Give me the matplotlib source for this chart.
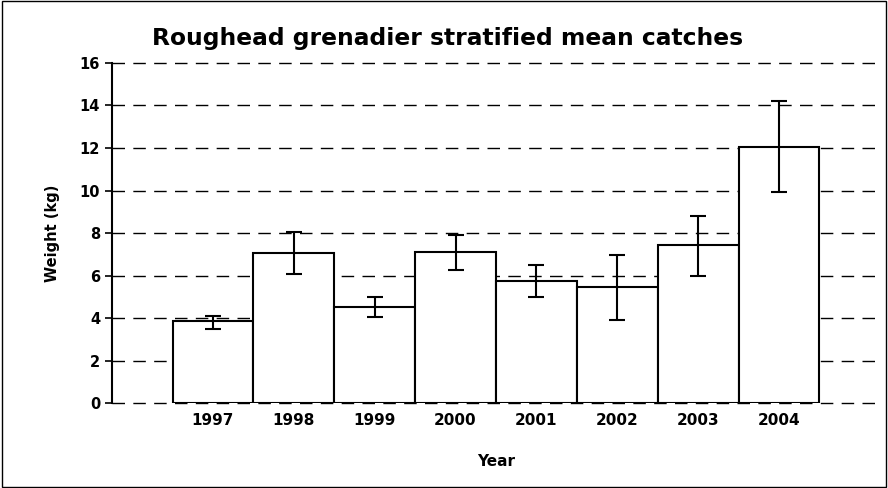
import matplotlib
matplotlib.use("Agg")
import matplotlib.pyplot as plt
from matplotlib.patches import Rectangle

plt.rcParams['font.family'] = ['DejaVu Sans']
plt.rcParams['font.weight'] = 'bold'

years = ['1997', '1998', '1999', '2000', '2001', '2002', '2003', '2004']
weight = [3.86, 7.06, 4.53, 7.12, 5.73, 5.47, 7.44, 12.06]
err_low = [3.48, 6.05, 4.05, 6.24, 4.99, 3.91, 5.99, 9.94]
err_high = [4.11, 8.05, 4.99, 7.90, 6.49, 6.98, 8.81, 14.23]

yerr = [[w - lo for w, lo in zip(weight, err_low)],
        [hi - w for w, hi in zip(weight, err_high)]]

fig = plt.figure(figsize=(8.88, 4.88), dpi=100)
ax = fig.add_axes([0.126, 0.174, 0.865, 0.697])

x = range(len(years))
ax.set_axisbelow(True)
ax.bar(x, weight, width=1.0, color='white', edgecolor='black', linewidth=1.5,
       yerr=yerr, error_kw=dict(ecolor='black', elinewidth=1.5, capsize=5.5, capthick=1.5),
       zorder=3)

ax.set_xlim(-1.25, 8.25)
ax.set_ylim(0, 16)
ax.set_yticks(range(0, 17, 2))
ax.yaxis.grid(True, linestyle=(0, (9, 6)), color='black', linewidth=1)
for gl in ax.get_ygridlines():
    gl.set_clip_on(False)
ax.set_xticks(list(x))
ax.set_xticklabels(years, fontsize=11, fontweight='bold')
ax.tick_params(axis='x', length=0, pad=7)
ax.tick_params(axis='y', length=5, width=1.2, labelsize=10.5, direction='out')
for lbl in ax.get_yticklabels():
    lbl.set_fontweight('bold')

for s in ['top', 'right', 'bottom']:
    ax.spines[s].set_visible(False)
ax.spines['left'].set_linewidth(1.5)

ax.set_ylabel('Weight (kg)', fontsize=10.5, fontweight='bold', labelpad=14)
ax.set_xlabel('Year', fontsize=11, fontweight='bold', labelpad=19)
fig.suptitle('Roughead grenadier stratified mean catches', fontsize=16.8,
             fontweight='bold', x=0.504, y=0.945)

fig.patches.append(Rectangle((0.002, 0.002), 0.996, 0.996, transform=fig.transFigure,
                             fill=False, edgecolor='black', linewidth=1))

fig.savefig('out.png', dpi=100)
